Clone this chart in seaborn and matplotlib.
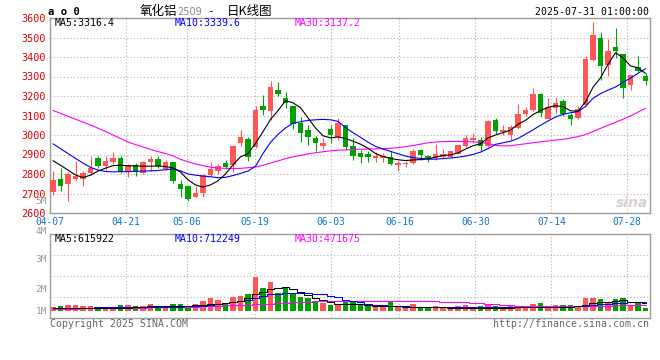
import matplotlib
matplotlib.use("Agg")
import matplotlib.pyplot as plt
import numpy as np
import seaborn as sns

# ---------------- data ----------------
tick_idx = [0, 10, 18, 27, 37, 46, 56, 66, 76]
tick_labels = ["04-07", "04-21", "05-06", "05-19", "06-03", "06-16", "06-30", "07-14", "07-28"]
price_ticks = [2600, 2700, 2800, 2900, 3000, 3100, 3200, 3300, 3400, 3500, 3600]

opens = [2707, 2776, 2747, 2775, 2776, 2805, 2883, 2841, 2859, 2883,
         2812, 2846, 2803, 2863, 2878, 2827, 2859, 2751, 2741, 2681,
         2701, 2795, 2815, 2858, 2846, 2957, 2979, 2937, 3149, 3125,
         3229, 3190, 3149, 3060, 3026, 2986, 2945, 3032, 2988, 3051,
         2944, 2908, 2903, 2884, 2882, 2887, 2845, 2850, 2855, 2923,
         2892, 2880, 2889, 2889, 2903, 2944, 2975, 2974, 2944, 3077,
         3016, 3002, 3036, 3108, 3128, 3210, 3084, 3139, 3173, 3101,
         3087, 3152, 3386, 3497, 3361, 3450, 3415, 3258, 3347, 3301]
closes = [2771, 2737, 2802, 2792, 2807, 2832, 2842, 2868, 2883, 2808,
          2846, 2808, 2863, 2878, 2842, 2863, 2763, 2725, 2673, 2703,
          2795, 2826, 2841, 2837, 2944, 2991, 2886, 3128, 3128, 3248,
          3212, 3166, 3056, 3012, 2988, 2961, 2961, 2998, 3060, 2940,
          2892, 2889, 2887, 2892, 2890, 2850, 2855, 2858, 2920, 2896,
          2880, 2903, 2903, 2918, 2949, 2983, 2985, 2944, 3073, 3022,
          3026, 3043, 3108, 3128, 3210, 3113, 3142, 3162, 3108, 3084,
          3135, 3392, 3515, 3352, 3433, 3429, 3241, 3306, 3327, 3275]
highs = [2817, 2830, 2812, 2868, 2817, 2890, 2890, 2893, 2914, 2893,
         2853, 2856, 2868, 2890, 2890, 2871, 2864, 2771, 2746, 2737,
         2800, 2863, 2850, 2870, 2950, 3026, 2988, 3149, 3204, 3277,
         3270, 3222, 3149, 3091, 3051, 2995, 2983, 3051, 3086, 3052,
         2983, 2923, 2918, 2914, 2910, 2918, 2867, 2867, 2926, 2929,
         2898, 2954, 2929, 2920, 2950, 3000, 3008, 2988, 3077, 3085,
         3053, 3053, 3159, 3142, 3241, 3215, 3190, 3193, 3187, 3113,
         3147, 3403, 3580, 3528, 3494, 3549, 3415, 3309, 3403, 3318]
lows = [2690, 2712, 2661, 2763, 2737, 2797, 2830, 2819, 2853, 2805,
        2783, 2790, 2802, 2814, 2830, 2822, 2754, 2681, 2661, 2681,
        2682, 2790, 2800, 2825, 2810, 2944, 2868, 2932, 3103, 3077,
        3202, 3140, 3029, 2966, 2949, 2920, 2927, 2957, 2974, 2925,
        2872, 2855, 2863, 2863, 2860, 2846, 2815, 2836, 2850, 2872,
        2863, 2872, 2880, 2886, 2902, 2940, 2957, 2918, 2940, 3005,
        3002, 2976, 3033, 3096, 3121, 3091, 3084, 3113, 3100, 3053,
        3084, 3147, 3378, 3284, 3301, 3395, 3190, 3233, 3323, 3258]

ma5 = [2868, 2845, 2820, 2795, 2782, 2794, 2815, 2830, 2843, 2845,
       2842, 2842, 2840, 2840, 2841, 2838, 2832, 2810, 2770, 2744,
       2733, 2744, 2765, 2800, 2847, 2888, 2905, 2957, 3017, 3080,
       3125, 3176, 3165, 3140, 3088, 3036, 2996, 2985, 2990, 2982,
       2968, 2953, 2932, 2905, 2890, 2880, 2873, 2869, 2872, 2874,
       2878, 2886, 2895, 2898, 2908, 2928, 2945, 2955, 2985, 3000,
       3012, 3025, 3055, 3075, 3105, 3125, 3142, 3150, 3146, 3124,
       3122, 3170, 3245, 3293, 3362, 3422, 3396, 3354, 3345, 3316]
ma10 = [2955, 2930, 2905, 2880, 2856, 2834, 2820, 2813, 2811, 2812,
        2812, 2814, 2815, 2816, 2818, 2822, 2826, 2816, 2800, 2794,
        2789, 2786, 2781, 2783, 2792, 2803, 2815, 2840, 2905, 2962,
        3003, 3036, 3060, 3068, 3075, 3078, 3080, 3078, 3070, 3038,
        3012, 2988, 2963, 2942, 2928, 2916, 2904, 2892, 2884, 2880,
        2876, 2876, 2879, 2882, 2886, 2892, 2900, 2912, 2930, 2952,
        2960, 2968, 2982, 3004, 3026, 3050, 3072, 3092, 3106, 3114,
        3120, 3146, 3188, 3212, 3230, 3246, 3270, 3292, 3316, 3340]
ma30 = [3126, 3111, 3096, 3081, 3066, 3051, 3035, 3018, 3000, 2982,
        2964, 2951, 2939, 2926, 2915, 2905, 2893, 2875, 2863, 2851,
        2843, 2835, 2831, 2829, 2828, 2829, 2832, 2836, 2845, 2856,
        2867, 2879, 2888, 2895, 2903, 2909, 2914, 2919, 2922, 2924,
        2926, 2927, 2928, 2929, 2930, 2932, 2935, 2940, 2946, 2953,
        2960, 2964, 2966, 2967, 2967, 2966, 2965, 2962, 2955, 2947,
        2944, 2945, 2950, 2955, 2960, 2965, 2969, 2974, 2978, 2984,
        2992, 3002, 3018, 3034, 3050, 3065, 3081, 3098, 3117, 3137]

volume = [325000, 400000, 470000, 475000, 400000, 405000, 205000, 200000, 210000, 470000,
          475000, 400000, 395000, 550000, 400000, 405000, 550000, 545000, 330000, 550000,
          750000, 950000, 825000, 555000, 1075000, 1150000, 1275000, 2575000, 1750000, 2200000,
          1375000, 1750000, 1275000, 1075000, 1000000, 700000, 625000, 450000, 550000, 700000,
          700000, 525000, 400000, 405000, 325000, 700000, 400000, 405000, 525000, 330000,
          325000, 400000, 330000, 325000, 400000, 450000, 325000, 400000, 450000, 400000,
          325000, 400000, 405000, 400000, 525000, 575000, 400000, 450000, 455000, 450000,
          400000, 950000, 955000, 875000, 700000, 875000, 950000, 450000, 625000, 200000]
vol_ma5 = [200000, 205000, 210000, 215000, 220000, 225000, 240000, 250000, 250000, 255000,
           260000, 280000, 300000, 340000, 350000, 360000, 380000, 400000, 410000, 420000,
           450000, 500000, 560000, 600000, 680000, 780000, 1000000, 1250000, 1450000, 1650000,
           1750000, 1825000, 1650000, 1450000, 1200000, 1000000, 850000, 700000, 560000, 500000,
           500000, 500000, 450000, 410000, 400000, 380000, 360000, 340000, 330000, 325000,
           275000, 270000, 265000, 260000, 255000, 255000, 250000, 250000, 250000, 255000,
           255000, 260000, 265000, 270000, 275000, 275000, 280000, 290000, 300000, 330000,
           400000, 480000, 575000, 640000, 700000, 760000, 800000, 700000, 640000, 615922]
vol_ma10 = [250000, 252000, 255000, 258000, 260000, 262000, 265000, 268000, 270000, 272000,
            275000, 278000, 282000, 290000, 295000, 300000, 310000, 320000, 340000, 370000,
            410000, 450000, 500000, 570000, 640000, 720000, 820000, 950000, 1120000, 1240000,
            1300000, 1370000, 1380000, 1380000, 1375000, 1300000, 1250000, 1150000, 1025000, 850000,
            750000, 650000, 550000, 460000, 420000, 380000, 350000, 320000, 300000, 285000,
            275000, 275000, 275000, 275000, 275000, 275000, 275000, 275000, 275000, 275000,
            275000, 275000, 275000, 275000, 275000, 278000, 282000, 290000, 300000, 320000,
            350000, 400000, 450000, 500000, 540000, 575000, 620000, 650000, 690000, 712249]
vol_ma30 = [150000, 160000, 170000, 180000, 190000, 200000, 210000, 220000, 230000, 240000,
            250000, 255000, 260000, 270000, 280000, 300000, 305000, 310000, 320000, 325000,
            340000, 360000, 380000, 420000, 450000, 470000, 480000, 500000, 510000, 540000,
            580000, 620000, 650000, 680000, 710000, 740000, 750000, 750000, 750000, 750000,
            750000, 750000, 750000, 750000, 750000, 750000, 750000, 750000, 750000, 750000,
            750000, 750000, 700000, 700000, 700000, 700000, 625000, 580000, 540000, 500000,
            450000, 430000, 410000, 390000, 375000, 375000, 375000, 375000, 375000, 375000,
            375000, 375000, 375000, 390000, 410000, 430000, 440000, 450000, 460000, 471675]

vol_label_text = ["5M", "4M", "3M", "2M", "1M"]

# ---------------- style ----------------
RED = "#ff5656"
GREEN = "#00a200"
TXT_RED = "#e00000"
TXT_BLUE = "#1478d4"
GRID = "#b4b4b4"
SPINE = "#9c9c9c"
MONO = ["DejaVu Sans Mono", "Noto Sans CJK SC"]
CJK = ["Noto Sans CJK SC", "DejaVu Sans"]

sns.set_style("white")
plt.rcParams["font.family"] = MONO

W, H = 660, 360
fig = plt.figure(figsize=(W / 100, H / 100), dpi=100)
fig.patch.set_facecolor("white")


def px_axes(l, t, r, b):
    return fig.add_axes([l / W, 1 - b / H, (r - l) / W, (b - t) / H])


def ftext(x, y, s, **kw):
    kw.setdefault("va", "center")
    return fig.text(x / W, 1 - y / H, s, **kw)


ax = px_axes(50, 18, 650, 213)
axv = px_axes(50, 234, 650, 318)

n = len(closes)
xs = np.arange(n)
o = np.array(opens, float)
c = np.array(closes, float)
up = c >= o
cols = [RED if u else GREEN for u in up]

# ---------------- candles ----------------
ax.vlines(xs, lows, highs, colors=cols, linewidth=0.8, zorder=2)
ax.bar(xs, np.maximum(np.abs(c - o), 4), bottom=np.minimum(o, c), width=0.76,
       color=cols, linewidth=0, zorder=3)

for vals, col in ((ma30, "#ff00ff"), (ma10, "#0000ff"), (ma5, "#000000")):
    sns.lineplot(x=xs, y=vals, ax=ax, color=col, linewidth=0.8, zorder=4)

# ---------------- volume ----------------
axv.bar(xs, volume, width=0.76, color=cols, linewidth=0, zorder=2)
for vals, col in ((vol_ma30, "#ff00ff"), (vol_ma10, "#0000ff"), (vol_ma5, "#000000")):
    sns.lineplot(x=xs, y=vals, ax=axv, color=col, linewidth=0.75, zorder=4,
                 drawstyle="steps-mid")

# ---------------- axes cosmetics ----------------
XMIN, XMAX = -0.4, n - 0.4
tick_pos = [XMIN + k * (XMAX - XMIN) / (n - 1) for k in tick_idx]

for a in (ax, axv):
    a.set_xlim(XMIN, XMAX)
    a.set_xticks(tick_pos)
    a.grid(True, color=GRID, linestyle=(0, (1, 2)), linewidth=0.8)
    a.set_axisbelow(True)
    a.set_xlabel("")
    a.set_ylabel("")
    for s in a.spines.values():
        s.set_visible(True)
        s.set_color(SPINE)
        s.set_linewidth(1.0)
    a.tick_params(length=0)

ax.set_ylim(2600, 3600)
ax.set_yticks(price_ticks)
ax.set_yticklabels([str(t) for t in price_ticks], color=TXT_RED, fontsize=7.3)
ax.set_xticklabels(tick_labels, color=TXT_BLUE, fontsize=6.9)
ax.tick_params(axis="x", pad=3)
ax.tick_params(axis="y", pad=3)

VLO, VHI = -525000, 5775000
axv.set_ylim(VLO, VHI)
axv.set_yticks(np.linspace(VLO, VHI, 5)[1:4])
axv.set_yticklabels([])
axv.set_xticklabels([])

# ---------------- texts ----------------
ftext(48, 12, "a o 0", ha="left", fontsize=7.6, fontweight="bold", color="black")
ftext(140, 11, "氧化铝", ha="left", fontsize=9, family=CJK, color="black")
ftext(177, 12, "2509", ha="left", fontsize=7, family=["DejaVu Sans"], color="#8a8a8a")
ftext(210, 11, "-", ha="center", fontsize=8, color="black")
ftext(227, 11, "日K线图", ha="left", fontsize=9, family=CJK, color="black")
ftext(649, 12, "2025-07-31 01:00:00", ha="right", fontsize=7.1, color="black")

ftext(55, 23.5, "MA5:3316.4", ha="left", fontsize=7.1, color="black")
ftext(175, 23.5, "MA10:3339.6", ha="left", fontsize=7.1, color="#0000ff")
ftext(295, 23.5, "MA30:3137.2", ha="left", fontsize=7.1, color="#ff00ff")

ftext(55, 239, "MA5:615922", ha="left", fontsize=7.1, color="black")
ftext(175, 239, "MA10:712249", ha="left", fontsize=7.1, color="#0000ff")
ftext(295, 239, "MA30:471675", ha="left", fontsize=7.1, color="#ff00ff")

for lbl, ypx in zip(vol_label_text, [201, 231, 260, 290, 311]):
    ftext(47, ypx, lbl, ha="right", fontsize=6.8, color="#9a9a9a")

ftext(50, 324, "Copyright 2025 SINA.COM", ha="left", fontsize=7.1, color="#666666")
ftext(649, 324, "http://finance.sina.com.cn", ha="right", fontsize=7.1, color="#666666")
ftext(648, 203, "sina", ha="right", fontsize=10, fontweight="bold", style="italic",
      family=["DejaVu Sans"], color="#d9d0d0")

fig.savefig("out.png", dpi=100, facecolor="white")
